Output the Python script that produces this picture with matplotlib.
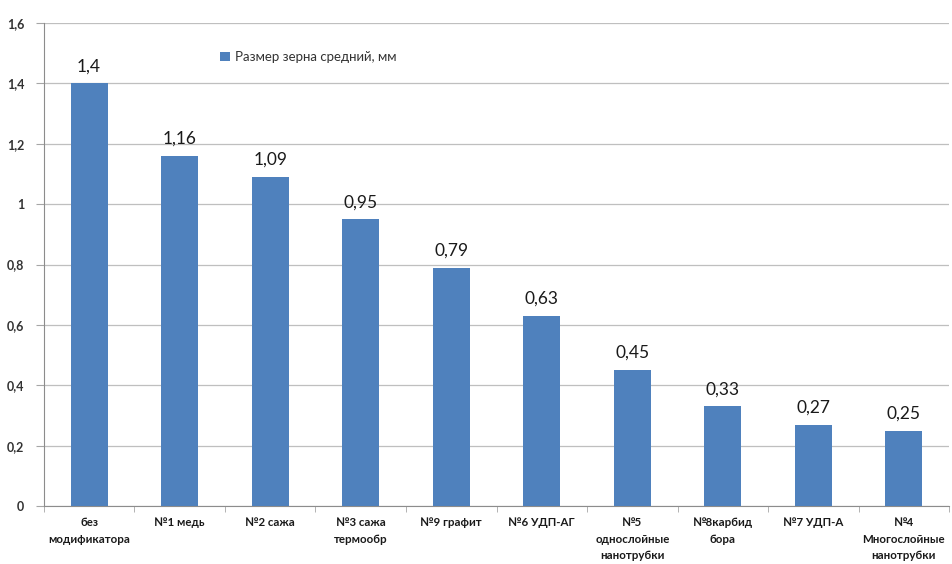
import matplotlib
matplotlib.use("Agg")
import matplotlib.pyplot as plt
from matplotlib.ticker import MultipleLocator, FuncFormatter

categories = ["без\nмодификатора", "№1 медь", "№2 сажа", "№3 сажа\nтермообр", "№9 графит",
              "№6 УДП-АГ", "№5\nоднослойные\nнанотрубки", "№8карбид\nбора", "№7 УДП-А",
              "№4\nМногослойные\nнанотрубки"]
values = [1.4, 1.16, 1.09, 0.95, 0.79, 0.63, 0.45, 0.33, 0.27, 0.25]
labels = ["1,4", "1,16", "1,09", "0,95", "0,79", "0,63", "0,45", "0,33", "0,27", "0,25"]
series_name = "Размер зерна средний, мм"

plt.rcParams['font.family'] = ['Lato', 'DejaVu Sans']
fig = plt.figure(figsize=(9.53, 5.64), dpi=100)
ax = fig.add_axes([0.046, 0.1028, 0.95, 0.8564])

x = list(range(len(values)))
color = "#4f81bd"
bars = ax.bar(x, values, width=0.41, color=color, label=series_name, zorder=3)
for xi, v, lab in zip(x, values, labels):
    ax.text(xi, v + 0.03, lab, ha="center", va="bottom", fontsize=12.5, color="#1a1a1a")

ax.set_xlim(-0.5, len(values) - 0.5)
ax.set_ylim(0, 1.6)
ax.yaxis.set_major_locator(MultipleLocator(0.2))
ax.yaxis.set_major_formatter(FuncFormatter(lambda v, p: ("%g" % round(v, 1)).replace(".", ",")))
ax.grid(axis="y", color="#bfbfbf", linewidth=0.9, zorder=0)
for s in ["top", "right"]:
    ax.spines[s].set_visible(False)
for s in ["left", "bottom"]:
    ax.spines[s].set_color("#8c8c8c")
ax.set_xticks([i + 0.5 for i in range(-1, len(values))], minor=True)
ax.set_xticks(x)
ax.set_xticklabels(categories, fontsize=8.3, fontweight="bold", linespacing=1.6, color="#1a1a1a")
ax.tick_params(axis="x", which="major", length=0, pad=8)
ax.tick_params(axis="x", which="minor", length=4, color="#a6a6a6")
ax.tick_params(axis="y", length=6, color="#a6a6a6", labelsize=9, pad=8)
for t in ax.get_yticklabels():
    t.set_fontweight("bold")
    t.set_color("#333333")

leg = ax.legend(loc="upper left", bbox_to_anchor=(0.182, 0.966), frameon=False,
                fontsize=9.5, handlelength=0.7, handleheight=0.7, handletextpad=0.4)
for t in leg.get_texts():
    t.set_color("#333333")

fig.savefig("out.png", dpi=100)
